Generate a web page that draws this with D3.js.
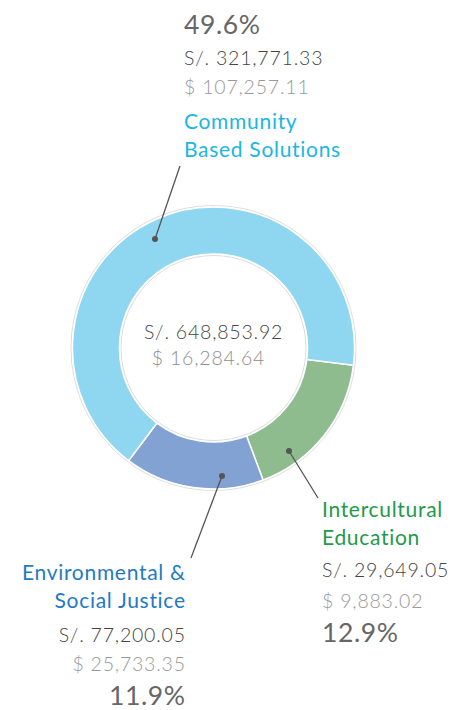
<!DOCTYPE html>
<html>
<head>
<meta charset="utf-8">
<script src="https://cdn.jsdelivr.net/npm/d3@7"></script>
<style>
  body { margin: 0; background: #fff; }
  svg text { font-family: Lato, "Open Sans", sans-serif; }
</style>
</head>
<body>
<div id="chart"></div>
<script>
// programme areas, in the order they're drawn clockwise
const categories = ["Intercultural Education", "Environmental & Social Justice", "Community Based Solutions"];
const labelLines = [["Intercultural", "Education"], ["Environmental &", "Social Justice"], ["Community", "Based Solutions"]];
const percents = [12.9, 11.9, 49.6];
const solesValues = ["S/. 29,649.05", "S/. 77,200.05", "S/. 321,771.33"];
const dollarValues = ["$ 9,883.02", "$ 25,733.35", "$ 107,257.11"];
const totalSoles = "S/. 648,853.92";
const totalDollars = "$ 16,284.64";

const sliceColors = ["#8fbc8f", "#81a2d3", "#8fd7f0"];
const titleColors = ["#1f9a48", "#1f7ac4", "#1bb6e2"];

const width = 457, height = 710;
const cx = 213.5, cy = 348;
const outerR = 141, innerR = 94;

const svg = d3.select("#chart").append("svg")
    .attr("width", width)
    .attr("height", height);

const g = svg.append("g")
    .attr("transform", "translate(" + cx + "," + cy + ")");

const pie = d3.pie()
    .sort(null)
    .startAngle(97 * Math.PI / 180)
    .endAngle(97 * Math.PI / 180 + 2 * Math.PI)
    .value(d => d);

const arcs = pie(percents);
const arc = d3.arc().innerRadius(innerR).outerRadius(outerR);

// faint outline rings
g.append("circle").attr("r", outerR + 1.5).attr("fill", "none").attr("stroke", "#dcdcdc").attr("stroke-width", 1);
g.append("circle").attr("r", innerR - 1.5).attr("fill", "none").attr("stroke", "#dcdcdc").attr("stroke-width", 1);

g.selectAll("path.slice")
    .data(arcs)
    .enter()
    .append("path")
    .attr("class", "slice")
    .attr("d", arc)
    .attr("fill", (d, i) => sliceColors[i])
    .attr("stroke", "#fff")
    .attr("stroke-width", 1.5);

// centre totals
g.append("text").attr("x", 0).attr("y", -9).attr("text-anchor", "middle")
    .attr("font-size", 19.5).attr("letter-spacing", 0.8).attr("font-weight", 300).attr("fill", "#444").text(totalSoles);
g.append("text").attr("x", -5).attr("y", 17).attr("text-anchor", "middle")
    .attr("font-size", 19.5).attr("letter-spacing", 0.8).attr("font-weight", 300).attr("fill", "#8e8e8e").text(totalDollars);

// label blocks: anchor point, alignment, and the row order of the block
const blocks = [
    {x: 322, anchor: "start", dot: [289, 451], end: [318, 498],
     rows: ["t0", "t1", "s", "d", "p"], ys: [517, 545, 577, 608, 642]},
    {x: 185, anchor: "end", dot: [222, 476], end: [191, 558],
     rows: ["t0", "t1", "s", "d", "p"], ys: [580, 608, 642, 671, 705]},
    {x: 184, anchor: "start", dot: [155, 239], end: [180, 166],
     rows: ["p", "s", "d", "t0", "t1"], ys: [34, 65, 94, 129, 157]}
];

blocks.forEach((b, i) => {
    svg.append("line")
        .attr("x1", b.dot[0]).attr("y1", b.dot[1])
        .attr("x2", b.end[0]).attr("y2", b.end[1])
        .attr("stroke", "#555").attr("stroke-width", 1.3);
    svg.append("circle")
        .attr("cx", b.dot[0]).attr("cy", b.dot[1]).attr("r", 3)
        .attr("fill", "#555");

    b.rows.forEach((r, k) => {
        // end-anchored text: shift by one spacing so trailing gap doesn't push it left
        const ls = (r === "t0" || r === "t1") ? 0.7 : (r === "p" ? 0.6 : 0.8);
        const t = svg.append("text")
            .attr("x", b.anchor === "end" ? b.x + ls : b.x).attr("y", b.ys[k])
            .attr("text-anchor", b.anchor)
            .attr("letter-spacing", ls);
        if (r === "t0" || r === "t1") {
            t.attr("font-size", 21).attr("fill", titleColors[i])
                .text(labelLines[i][r === "t0" ? 0 : 1]);
        } else if (r === "s") {
            t.attr("font-size", 19.5).attr("font-weight", 300).attr("fill", "#444").text(solesValues[i]);
        } else if (r === "d") {
            t.attr("font-size", 19.5).attr("font-weight", 300).attr("fill", "#999").text(dollarValues[i]);
        } else {
            t.attr("font-size", 26.5).attr("font-weight", 400).attr("fill", "#666").text(percents[i] + "%");
        }
    });
});
</script>
</body>
</html>
